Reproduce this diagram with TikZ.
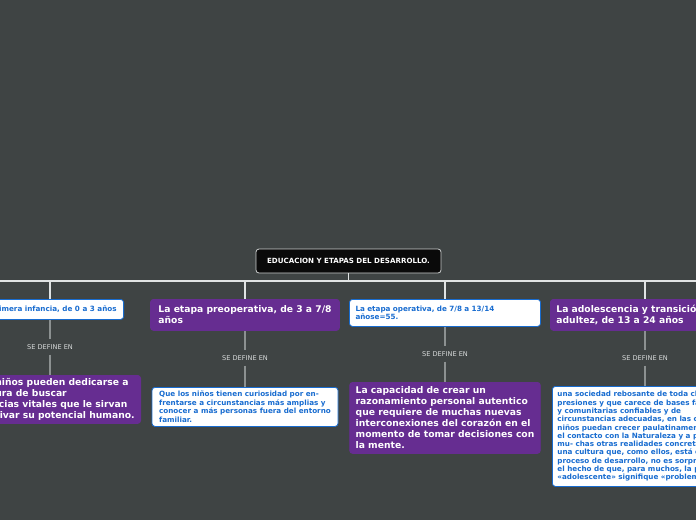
\documentclass[tikz,border=0pt]{standalone}
\usepackage{fontspec}
\setmainfont{DejaVu Sans}
\usepackage{xcolor}
\usepackage{tikz}
\usetikzlibrary{positioning}
\definecolor{mmbg}{RGB}{63,68,68}
\definecolor{mmroot}{RGB}{10,10,10}
\definecolor{mmedge}{RGB}{205,208,208}
\definecolor{mmpurple}{RGB}{102,45,145}
\definecolor{mmblue}{RGB}{24,108,208}
\definecolor{mmwire}{RGB}{225,228,228}
\definecolor{mmgrey}{RGB}{140,145,145}
\definecolor{mmlbl}{RGB}{215,218,218}
\tikzset{
  mmbox/.style={
    rounded corners=3pt, inner xsep=6pt, inner ysep=3pt,
    align=left, line width=0.8pt
  },
  rootbox/.style={mmbox, draw=mmedge, fill=mmroot, text=white, align=center,
    font=\fontsize{7.1}{8.5}\selectfont\bfseries},
  wbox/.style={mmbox, draw=mmblue, fill=white, text=mmblue,
    font=\fontsize{7.2}{8.5}\selectfont\bfseries},
  pbox/.style={mmbox, draw=mmpurple, fill=mmpurple, text=white,
    font=\fontsize{9.2}{11}\selectfont\bfseries},
  lbl/.style={inner sep=5pt, text=mmlbl, font=\fontsize{6.6}{7.5}\selectfont},
  wire/.style={draw=mmwire, line width=1.1pt},
  link/.style={draw=mmgrey, line width=1.1pt}
}
\begin{document}
\begin{tikzpicture}[x=1pt,y=-1pt]
  \fill[mmbg] (0,0) rectangle (696,520);
  \useasboundingbox (0,0) rectangle (696,520);
  \clip (0,0) rectangle (696,520);
  % root and bus
  \node[rootbox, minimum width=185pt, minimum height=24pt] (root) at (348.5,261)
    {EDUCACION Y ETAPAS DEL DESARROLLO.};
  \coordinate (busL) at (-10,281);
  \coordinate (busR) at (706,281);
  \coordinate (c1) at (50,281);
  \coordinate (c2) at (245,281);
  \coordinate (c3) at (445,281);
  \coordinate (c4) at (645,281);
  % stages
  \node[wbox, anchor=north east, inner xsep=7pt, minimum height=20pt] (t1) at (124,299)
    {La primera infancia, de 0 a 3 años};
  \node[pbox, anchor=north, minimum width=189pt, minimum height=31pt] (t2) at (245,299)
    {La etapa preoperativa, de 3 a 7/8\\años};
  \node[wbox, anchor=north, text width=179pt, minimum height=27pt] (t3) at (445,299)
    {La etapa operativa, de 7/8 a 13/14\\añose=55.};
  \node[pbox, anchor=north west, minimum height=31pt] (t4) at (550,299)
    {La adolescencia y transición a la\\adultez, de 13 a 24 años};
  % labels
  \node[lbl] (l1) at (50,347) {SE DEFINE EN};
  \node[lbl] (l2) at (245,358) {SE DEFINE EN};
  \node[lbl] (l3) at (445,354) {SE DEFINE EN};
  \node[lbl] (l4) at (645,358) {SE DEFINE EN};
  % definitions
  \node[pbox, anchor=north east, minimum height=48pt] (b1) at (141,375)
    {Que los niños pueden dedicarse a\\la aventura de buscar\\experiencias vitales que le sirvan\\para cultivar su potencial humano.};
  \node[wbox, anchor=north, minimum width=186pt, minimum height=39pt] (b2) at (245,387)
    {Que los niños tienen curiosidad por en-\\frentarse a circunstancias más amplias y\\conocer a más personas fuera del entorno\\familiar.};
  \node[pbox, anchor=north, minimum width=184pt, minimum height=71pt] (b3) at (445,382)
    {La capacidad de crear un\\razonamiento personal autentico\\que requiere de muchas nuevas\\interconexiones del corazón en el\\momento de tomar decisiones con\\la mente.};
  \node[wbox, anchor=north west, inner xsep=5pt, minimum height=100pt,
    font=\fontsize{7.2}{8.3}\selectfont\bfseries] (b4) at (552,386)
    {una sociedad rebosante de toda clase de\\presiones y que carece de bases familiares\\y comunitarias confiables y de\\circunstancias adecuadas, en las cuales los\\niños puedan crecer paulatinamente en\\el contacto con la Naturaleza y a partir de\\mu- chas otras realidades concretas, en\\una cultura que, como ellos, está en\\proceso de desarrollo, no es sorprendente\\el hecho de que, para muchos, la palabra\\«adolescente» signifique «problema».};
  % connectors
  \draw[wire] (busL) -- (busR);
  \draw[wire] (root) -- (root |- busL);
  \draw[wire] (c1) -- (c1 |- t1.north);
  \draw[wire] (c2) -- (t2);
  \draw[wire] (c3) -- (t3);
  \draw[wire] (c4) -- (c4 |- t4.north);
  \draw[link] (t1.south -| c1) -- (l1);
  \draw[link] (t2) -- (l2);
  \draw[link] (t3) -- (l3);
  \draw[link] (t4.south -| c4) -- (l4);
  \draw[link] (l1) -- (b1.north -| l1);
  \draw[link] (l2) -- (b2);
  \draw[link] (l3) -- (b3);
  \draw[link] (l4) -- (b4.north -| l4);
\end{tikzpicture}
\end{document}
